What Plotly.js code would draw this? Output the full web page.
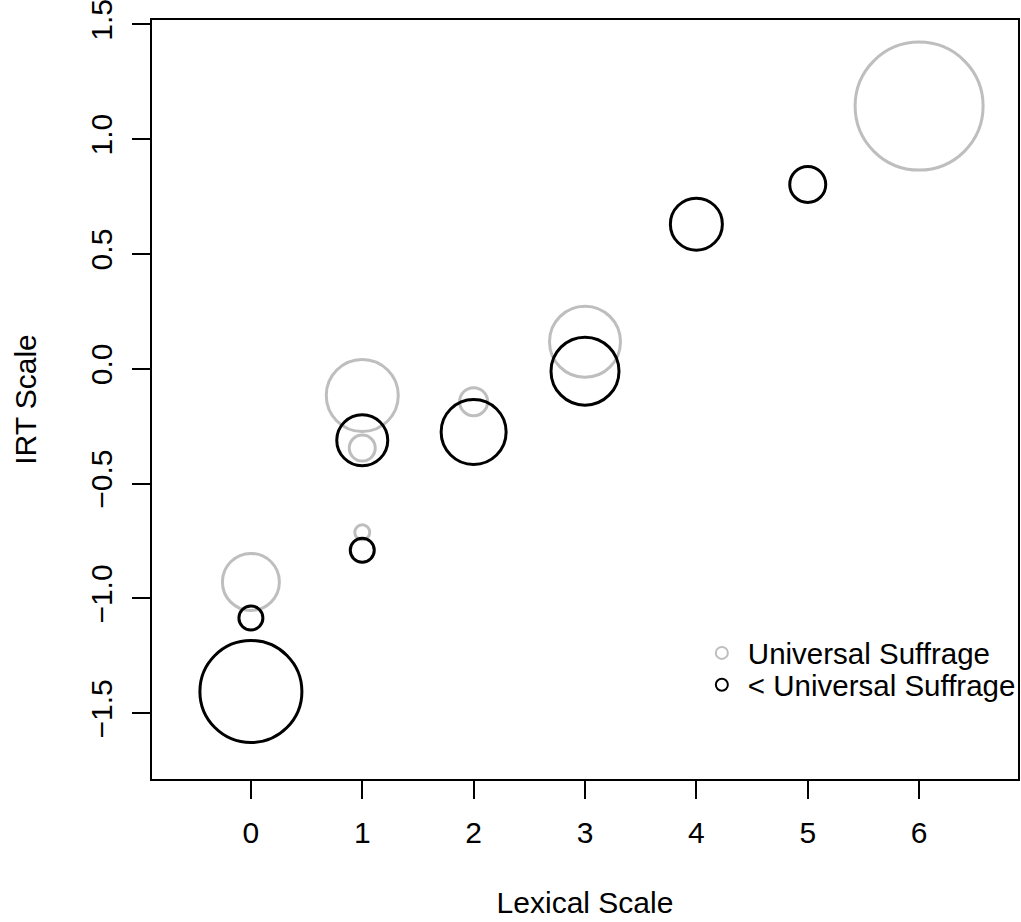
<!DOCTYPE html>
<html>
<head>
<meta charset="utf-8">
<script src="https://cdn.plot.ly/plotly-3.0.1.min.js"></script>
<style>html,body{margin:0;padding:0;background:#fff;}#chart{width:1021px;height:922px;}</style>
</head>
<body>
<div id="chart"></div>
<script>
// Universal suffrage group (gray)
const usLexical = [0, 1, 1, 1, 2, 3, 6];
const usIRT     = [-0.928, -0.116, -0.345, -0.712, -0.143, 0.118, 1.144];
const usWeight  = [5.7, 7.2, 2.6, 1.5, 2.8, 7.1, 12.8];

// Less than universal suffrage group (black)
const lessLexical = [0, 0, 1, 1, 2, 3, 4, 5];
const lessIRT     = [-1.085, -1.405, -0.311, -0.790, -0.275, -0.010, 0.630, 0.803];
const lessWeight  = [2.4, 10.2, 5.1, 2.4, 6.5, 6.8, 5.2, 3.6];

const xTicks = [0, 1, 2, 3, 4, 5, 6];
const yTicks = [-1.5, -1.0, -0.5, 0.0, 0.5, 1.0, 1.5];
const seriesNames = ["Universal Suffrage", "< Universal Suffrage"];

const FONT = "Liberation Sans, Arial, sans-serif";
const FS = 30;
const LFS = 29.5;

const traces = [
  {
    x: usLexical, y: usIRT, type: "scatter", mode: "markers", name: seriesNames[0],
    legend: "legend",
    marker: {size: usWeight, sizemode: "diameter", sizeref: 0.1, symbol: "circle-open",
             opacity: 1, color: "#BEBEBE", line: {color: "#BEBEBE", width: 3}},
    hoverinfo: "x+y"
  },
  {
    x: lessLexical, y: lessIRT, type: "scatter", mode: "markers", name: seriesNames[1],
    legend: "legend2",
    marker: {size: lessWeight, sizemode: "diameter", sizeref: 0.1, symbol: "circle-open",
             opacity: 1, color: "#000000", line: {color: "#000000", width: 3}},
    hoverinfo: "x+y"
  }
];

const axisCommon = {
  showgrid: false, zeroline: false, showline: true, mirror: true,
  linecolor: "#000", linewidth: 2, ticks: "outside", ticklen: 18, tickwidth: 2,
  tickcolor: "#000", tickfont: {family: FONT, size: FS, color: "#000"},
  ticklabelstandoff: 8, ticklabeloverflow: "allow"
};

const legendCommon = {
  xanchor: "left", yanchor: "top",
  bgcolor: "rgba(0,0,0,0)", borderwidth: 0,
  itemsizing: "constant", itemwidth: 42, tracegroupgap: 0,
  font: {family: FONT, size: LFS, color: "#000"}
};

const layout = {
  width: 1021, height: 922,
  margin: {l: 152, r: 3, t: 20, b: 143, autoexpand: false},
  paper_bgcolor: "#fff", plot_bgcolor: "#fff",
  font: {family: FONT, size: FS, color: "#000"},
  showlegend: true,
  legend: Object.assign({}, legendCommon, {x: 0.628, y: 0.2}),
  legend2: Object.assign({}, legendCommon, {x: 0.628, y: 0.158}),
  xaxis: Object.assign({}, axisCommon, {
    range: [-0.888, 6.888], tickmode: "array", tickvals: xTicks,
    ticktext: xTicks.map(String),
    title: {text: "Lexical Scale", font: {family: FONT, size: FS, color: "#000"}, standoff: 44}
  }),
  yaxis: Object.assign({}, axisCommon, {
    range: [-1.786, 1.519], tickmode: "array", tickvals: yTicks,
    ticktext: yTicks.map(v => (v < 0 ? "\u2212" : "") + Math.abs(v).toFixed(1)),
    tickangle: -90,
    title: {text: "IRT Scale", font: {family: FONT, size: FS, color: "#000"}, standoff: 40}
  })
};

Plotly.newPlot("chart", traces, layout, {displayModeBar: false, staticPlot: true});
</script>
</body>
</html>
